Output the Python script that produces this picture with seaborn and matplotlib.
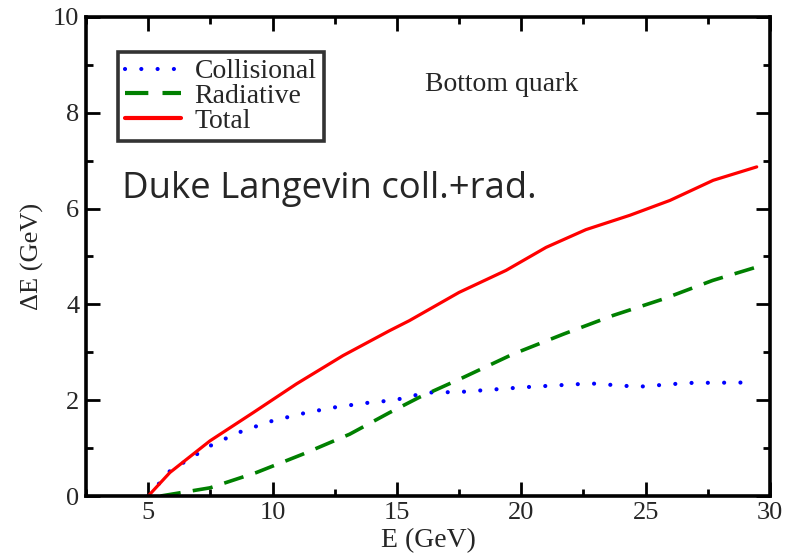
import matplotlib
matplotlib.use("Agg")
import matplotlib.pyplot as plt
from matplotlib.ticker import MultipleLocator
import seaborn as sns
import pandas as pd

# Energy loss of a bottom quark vs initial energy (Duke Langevin model)
coll_E = [5.0, 5.87, 7.6, 8.8, 10.0, 11.36, 12.6, 13.9, 14.9, 16.2, 17.5, 20.1, 22.8, 24.7, 26.7, 29.4]
coll_dE = [0.0, 0.52, 1.08, 1.36, 1.57, 1.74, 1.86, 1.95, 2.0, 2.16, 2.17, 2.27, 2.35, 2.28, 2.36, 2.37]

rad_E = [5.5, 7.48, 9.35, 11.2, 13.1, 14.7, 15.9, 17.65, 19.66, 21.7, 23.7, 25.7, 27.7, 29.6]
rad_dE = [0.0, 0.17, 0.49, 0.87, 1.29, 1.74, 2.06, 2.47, 2.96, 3.38, 3.77, 4.11, 4.5, 4.8]

tot_E = [5.0, 5.87, 7.48, 9.22, 10.96, 12.83, 14.7, 15.5, 17.5, 19.39, 21.0, 22.6, 24.37, 25.98, 27.72, 29.47]
tot_dE = [0.0, 0.49, 1.15, 1.74, 2.34, 2.93, 3.45, 3.66, 4.25, 4.71, 5.19, 5.56, 5.86, 6.17, 6.59, 6.87]

labels = ["Collisional", "Radiative", "Total"]
colors = ["#0000ff", "#008000", "#ff0000"]

x_ticks = [5, 10, 15, 20, 25, 30]
y_ticks = [0, 2, 4, 6, 8, 10]

sns.set_style("ticks")
plt.rcParams["font.family"] = ["Liberation Serif", "DejaVu Serif"]

fig = plt.figure(figsize=(7.97, 5.59), dpi=100)
ax = fig.add_axes([0.108, 0.1127, 0.858, 0.857])

series = [(coll_E, coll_dE), (rad_E, rad_dE), (tot_E, tot_dE)]
for (xs, ys), lab, col in zip(series, labels, colors):
    df = pd.DataFrame({"E": xs, "dE": ys})
    sns.lineplot(data=df, x="E", y="dE", ax=ax, color=col, label=lab,
                 lw=2.3, sort=False)

lines = ax.get_lines()
lines[0].set_linestyle((0, (0.01, 3.9)))
lines[0].set_dash_capstyle("round")
lines[0].set_linewidth(3.0)
lines[1].set_linestyle((0, (5.6, 3.4)))
lines[1].set_linewidth(2.6)

ax.set_xlim(2.5, 30)
ax.set_ylim(0, 10)
ax.set_xticks(x_ticks)
ax.set_yticks(y_ticks)
ax.xaxis.set_minor_locator(MultipleLocator(2.5))
ax.yaxis.set_minor_locator(MultipleLocator(1))
ax.tick_params(which="both", direction="in", top=True, right=True,
               width=2.0, labelsize=19, pad=5, color="black")
ax.tick_params(axis="x", which="both", pad=4)
ax.tick_params(which="major", length=10)
ax.tick_params(which="minor", length=5)
for sp in ax.spines.values():
    sp.set_linewidth(2.6)
    sp.set_color("black")

ax.set_xlabel("E (GeV)", fontsize=20, labelpad=3)
ax.set_ylabel("ΔE (GeV)", fontsize=19, labelpad=6)

leg = ax.legend(loc="upper left", bbox_to_anchor=(0.047, 0.927), fontsize=20,
                handlelength=2.0, handletextpad=0.5, labelspacing=-0.02,
                borderpad=0.25, borderaxespad=0.0, frameon=True, fancybox=False)
leg.get_frame().set_edgecolor("black")
leg.get_frame().set_linewidth(2.6)
for h in leg.get_lines():
    h.set_linewidth(3.0)

ax.text(0.496, 0.858, "Bottom quark", transform=ax.transAxes, fontsize=20,
        ha="left", va="center")
ax.text(0.052, 0.64, "Duke Langevin coll.+rad.", transform=ax.transAxes,
        fontsize=26.3, family=["Open Sans", "DejaVu Sans"], ha="left", va="center")

fig.savefig("out.png", dpi=100)
